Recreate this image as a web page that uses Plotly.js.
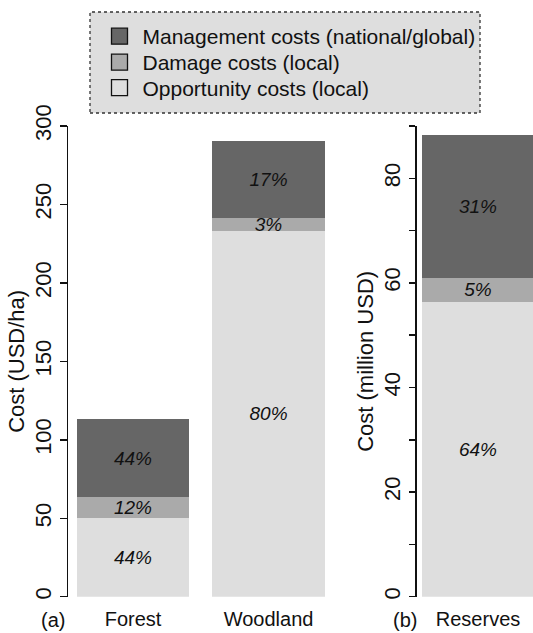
<!DOCTYPE html>
<html>
<head>
<meta charset="utf-8">
<script src="https://cdn.plot.ly/plotly-3.0.1.min.js"></script>
<style>html,body{margin:0;padding:0;background:#fff;}#chart{width:533px;height:633px;}</style>
</head>
<body>
<div id="chart"></div>
<script>
// ---- data ----
const sitesA = ['Forest', 'Woodland'];
const opportunityA = [50.0, 233.4];
const damageA = [13.4, 7.9];
const managementA = [49.6, 48.9];
const opportunityPctA = ['44%', '80%'];
const damagePctA = ['12%', '3%'];
const managementPctA = ['44%', '17%'];

const sitesB = ['Reserves'];
const opportunityB = [56.4];
const damageB = [4.6];
const managementB = [27.3];
const opportunityPctB = ['64%'];
const damagePctB = ['5%'];
const managementPctB = ['31%'];

const seriesNames = ['Opportunity costs (local)', 'Damage costs (local)', 'Management costs (national/global)'];
const seriesColors = ['#dedede', '#aaaaaa', '#666666'];

const W = 533, H = 633;
const FONT = 'Liberation Sans, Arial, Helvetica, sans-serif';
const px = v => v / W;
const py = v => (H - v) / H;

function barTrace(x, y, text, i, xa, ya) {
  return {
    type: 'bar', x: x, y: y, text: text, xaxis: xa, yaxis: ya,
    name: seriesNames[i], showlegend: false, width: 0.833,
    marker: {color: seriesColors[i], line: {width: 0}},
    textposition: 'inside', insidetextanchor: 'middle', constraintext: 'none',
    textfont: {family: FONT, size: 19, color: '#111', style: 'italic'},
    hoverinfo: 'skip'
  };
}

const traces = [
  barTrace(sitesA, opportunityA, opportunityPctA, 0, 'x', 'y'),
  barTrace(sitesA, damageA, damagePctA, 1, 'x', 'y'),
  barTrace(sitesA, managementA, managementPctA, 2, 'x', 'y'),
  barTrace(sitesB, opportunityB, opportunityPctB, 0, 'x2', 'y2'),
  barTrace(sitesB, damageB, damagePctB, 1, 'x2', 'y2'),
  barTrace(sitesB, managementB, managementPctB, 2, 'x2', 'y2')
];
// legend entries (squares with black outline), one legend per row
const legendIds = ['legend3', 'legend2', 'legend'];
[2, 1, 0].forEach(i => {
  traces.push({
    type: 'scatter', mode: 'markers', x: [null], y: [null], xaxis: 'x', yaxis: 'y',
    name: seriesNames[i], showlegend: true, legend: legendIds[i],
    marker: {symbol: 'square', size: 16, color: seriesColors[i], line: {color: '#111', width: 1.3}}
  });
});

const yDom = [(H - 596.7) / H, (H - 126) / H];
const tickFont = {family: FONT, size: 22, color: '#111'};
const xTickFont = {family: FONT, size: 20, color: '#111'};
const titleFont = {family: FONT, size: 22, color: '#111'};

function legendAt(rowY) {
  return {
    x: px(96.5), y: py(rowY), xanchor: 'left', yanchor: 'middle',
    bgcolor: 'rgba(0,0,0,0)', borderwidth: 0, itemwidth: 36,
    font: {family: FONT, size: 21, color: '#111'}
  };
}

const layout = {
  width: W, height: H,
  margin: {l: 0, r: 0, t: 0, b: 0},
  paper_bgcolor: '#fff', plot_bgcolor: 'rgba(0,0,0,0)',
  barmode: 'stack',
  showlegend: true,
  font: {family: FONT, size: 20, color: '#111'},
  legend: legendAt(36.5),
  legend2: legendAt(62.5),
  legend3: legendAt(88),
  xaxis: {
    domain: [px(68), px(332)], range: [-0.4796, 1.468], type: 'category',
    showline: false, ticks: '', showgrid: false, zeroline: false,
    tickfont: xTickFont, ticklabelstandoff: 8, anchor: 'y', fixedrange: true
  },
  yaxis: {
    domain: yDom, range: [0, 300], tickvals: [0, 50, 100, 150, 200, 250, 300],
    ticks: 'outside', ticklen: 7, tickwidth: 1.5, tickcolor: '#111',
    showline: true, linewidth: 1.5, linecolor: '#111',
    showgrid: false, zeroline: false, tickangle: -90, tickfont: tickFont,
    title: {text: 'Cost (USD/ha)', font: titleFont, standoff: 0},
    anchor: 'x'
  },
  xaxis2: {
    domain: [px(416.7), 1], range: [-0.456, 0.409], type: 'category',
    showline: false, ticks: '', showgrid: false, zeroline: false,
    tickfont: xTickFont, ticklabelstandoff: 8, anchor: 'y2'
  },
  yaxis2: {
    domain: yDom, range: [0, 90],
    tickvals: [0, 10, 20, 30, 40, 50, 60, 70, 80, 90],
    ticktext: ['0', '', '20', '', '40', '', '60', '', '80', ''],
    ticks: 'outside', ticklen: 6, tickwidth: 1.5, tickcolor: '#111',
    showline: true, linewidth: 1.5, linecolor: '#111',
    showgrid: false, zeroline: false, tickangle: -90, tickfont: tickFont,
    title: {text: 'Cost (million USD)', font: titleFont, standoff: 0},
    anchor: 'x2'
  },
  shapes: [{
    type: 'rect', xref: 'paper', yref: 'paper', layer: 'below',
    x0: px(90), x1: px(480), y0: py(113), y1: py(12),
    fillcolor: '#dedede', line: {color: '#333', width: 1.3, dash: 'dot'}
  }],
  annotations: [
    {text: '(a)', xref: 'paper', yref: 'paper', x: px(53), y: py(620), showarrow: false,
     xanchor: 'center', yanchor: 'middle', font: xTickFont},
    {text: '(b)', xref: 'paper', yref: 'paper', x: px(405), y: py(620), showarrow: false,
     xanchor: 'center', yanchor: 'middle', font: xTickFont}
  ]
};

Plotly.newPlot('chart', traces, layout, {staticPlot: true, displayModeBar: false});
</script>
</body>
</html>
